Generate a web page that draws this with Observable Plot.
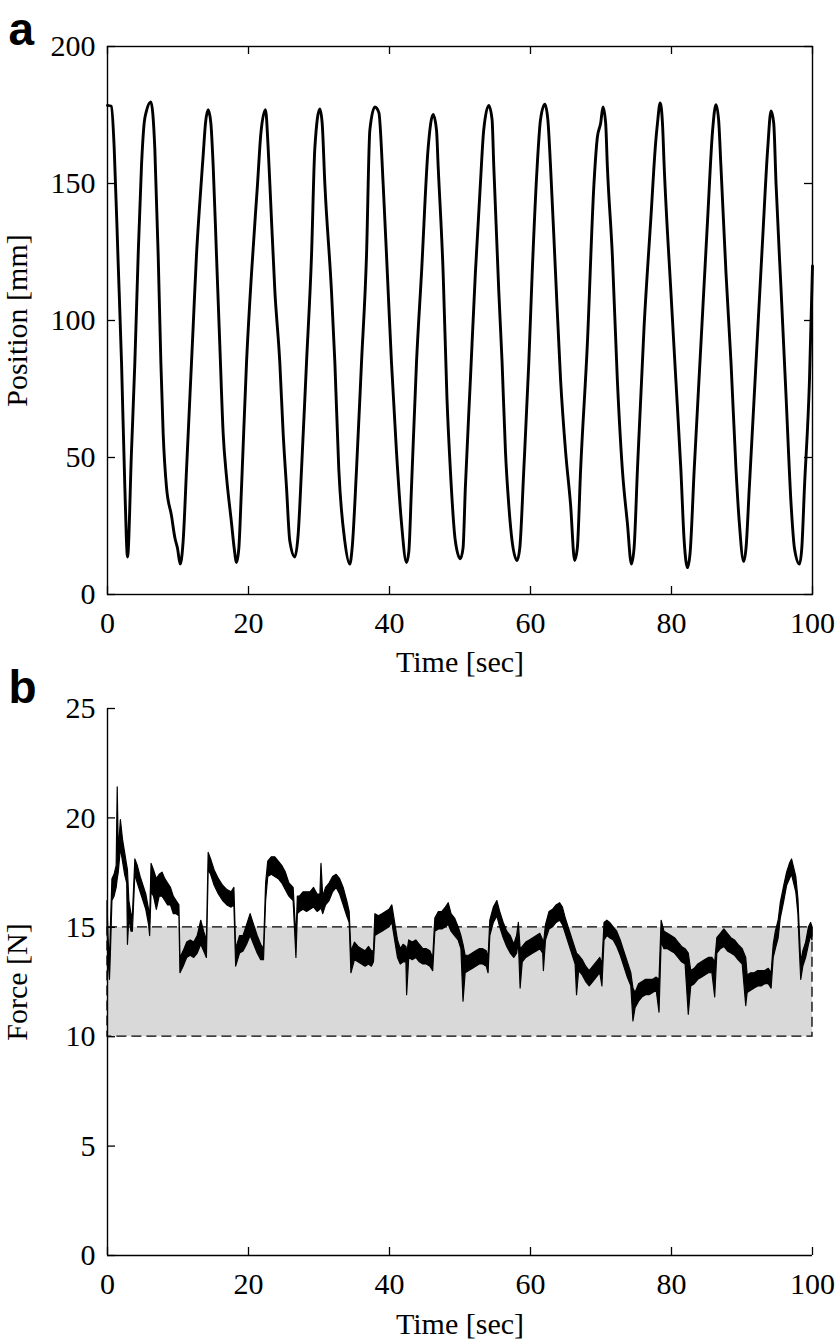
<!DOCTYPE html>
<html><head><meta charset="utf-8">
<script src="https://cdn.jsdelivr.net/npm/d3@7"></script>
<script src="https://cdn.jsdelivr.net/npm/@observablehq/plot@0.6"></script>
<style>body{margin:0;background:#fff} svg{display:block}</style>
</head><body><div id="chart"></div>
<script>
// ---------- data ----------
const xTicks = [0, 20, 40, 60, 80, 100];
const posTicks = [0, 50, 100, 150, 200];
const forceTicks = [0, 5, 10, 15, 20, 25];
const bandLow = 10, bandHigh = 15;
const timeRange = [0, 100];

const posTime = [0,0.57,0.95,1.51,1.99,2.46,2.84,3.40,3.88,4.35,4.82,5.20,5.53,6.15,6.71,7.19,7.57,7.90,8.37,9.08,9.55,9.93,10.31,10.73,11.21,11.68,12.15,12.62,13.10,13.57,13.90,14.28,14.66,14.99,15.46,15.93,16.41,16.88,17.59,17.97,18.30,18.63,19.01,19.72,20.43,21.28,21.75,22.41,22.79,23.03,23.74,24.44,24.92,25.39,25.86,26.57,27.05,27.52,28.23,28.94,29.41,30.12,30.45,30.83,31.77,32.25,32.81,33.66,34.37,34.70,35.32,36.03,36.74,37.21,37.92,38.49,39.10,39.81,40.28,40.99,41.70,42.41,42.74,43.12,43.83,44.54,45.48,46.19,46.67,46.90,47.61,48.15,48.63,49.34,50.05,50.43,50.76,51.47,52.18,52.89,53.36,54.08,54.55,54.79,55.50,55.97,56.45,56.92,57.39,58.10,58.48,59.05,59.76,60.24,60.95,61.42,62.04,62.46,62.84,63.55,64.27,64.98,65.69,66.26,66.64,67.11,68.06,69.00,69.48,69.95,70.28,70.66,70.90,71.61,72.32,73.03,73.74,74.31,74.69,75.17,76.11,77.06,77.77,78.01,78.39,78.72,78.96,79.91,80.62,81.33,81.80,82.27,82.65,83.22,84.17,85.12,85.83,86.30,86.68,87.01,87.73,88.44,89.15,89.62,90.24,90.57,91.04,91.99,92.94,93.65,94.12,94.50,94.83,95.55,96.26,96.97,97.44,98.15,98.48,98.86,99.57,100];
const posValue = [178.5,178.2,162.9,121.2,84.7,39.1,13.7,52.1,84.7,123.8,156.4,172.0,176.5,179.8,162.9,123.8,84.7,58.6,39.1,28.7,20.8,16.9,11.1,19.5,45.6,71.7,97.7,123.8,143.3,160.3,172.0,176.9,172.0,156.4,123.8,91.2,58.6,43.0,26.1,16.9,11.7,16.9,39.1,84.7,117.3,149.8,168.1,176.9,162.9,149.8,110.7,84.7,58.6,39.1,19.5,13.7,22.1,45.6,84.7,123.8,162.9,177.2,172,149.8,110.7,84.7,45.6,19.5,11.1,16.9,45.6,84.7,123.8,169.4,177.9,175.9,149.8,110.7,84.7,52.1,26.1,11.7,15.6,39.1,84.7,117.3,162.9,175.2,169.4,156.4,117.3,71.7,45.6,19.5,13.0,16.9,39.1,78.2,117.3,149.8,169.4,178.5,173.3,156.4,110.7,84.7,52.1,32.6,19.5,12.4,16.9,45.6,84.7,117.3,156.4,173.3,178.9,173.3,156.4,117.3,78.2,52.1,32.6,12.4,16.9,45.6,91.2,149.8,166.8,172.0,177.9,172,156.4,123.8,78.2,45.6,26.1,11.1,16.9,45.6,97.7,136.8,165.5,172.0,179.4,172,156.4,110.7,78.2,45.6,19.5,9.8,15.6,45.6,91.2,136.8,169.4,178.8,173.3,156.4,117.3,84.7,45.6,26.1,12.0,16.9,39.1,84.7,130.3,162.9,176.5,172,149.8,110.7,71.7,32.6,16.9,11.1,16.9,39.1,78.2,119.9];

const forceTime = [0,0.15,0.35,0.5,0.7,1.0,1.3,1.45,1.6,1.9,2.2,2.5,2.8,2.9,3.1,3.4,3.6,3.95,4.3,4.7,5.1,5.5,5.9,6.05,6.25,6.6,7.0,7.4,7.8,8.2,8.6,9.0,9.4,9.8,10.2,10.35,10.8,11.3,11.8,12.3,12.8,13.3,13.7,14.1,14.35,14.7,15.2,15.8,16.4,17.0,17.6,18.0,18.25,18.8,19.3,19.8,20.3,20.8,21.3,21.8,22.2,22.5,22.8,23.3,23.8,24.3,24.8,25.3,25.8,26.4,26.8,27.0,27.3,27.8,28.3,28.8,29.3,29.8,30.2,30.35,30.6,31.0,31.5,32.0,32.5,33.0,33.5,34.0,34.35,34.6,35.1,35.6,36.1,36.6,37.1,37.5,37.8,38.0,38.5,39.0,39.5,40.0,40.4,40.8,41.2,41.6,42.0,42.4,42.5,42.8,43.3,43.8,44.3,44.8,45.3,45.8,46.2,46.5,47.0,47.5,48.0,48.4,48.8,49.3,49.8,50.2,50.5,50.8,51.3,51.8,52.3,52.8,53.3,53.8,54.05,54.3,54.8,55.3,55.7,56.2,56.7,57.2,57.7,58.1,58.35,58.6,58.9,59.4,59.9,60.4,60.9,61.4,61.8,61.9,62.2,62.7,63.2,63.7,64.2,64.6,65.0,65.5,66.0,66.4,66.6,66.9,67.4,67.9,68.4,68.9,69.4,69.9,70.2,70.5,70.9,71.3,71.8,72.3,72.8,73.3,73.8,74.3,74.6,74.9,75.4,75.9,76.4,76.9,77.4,77.9,78.3,78.6,79.0,79.5,80.0,80.5,81.0,81.5,82.0,82.45,82.8,83.3,83.8,84.3,84.8,85.3,85.8,86.2,86.5,87.0,87.5,88.0,88.5,89.0,89.5,90.1,90.6,90.8,91.3,91.8,92.3,92.8,93.3,93.8,94.2,94.5,94.8,95.2,95.5,96.0,96.4,96.8,97.1,97.4,97.7,98.0,98.2,98.4,98.7,99.1,99.5,99.8,100];
const forceLow = [15.2,13.5,12.6,14.0,16.2,16.4,16.8,17.2,17.5,18.6,18.0,17.4,17.0,14.2,15.4,14.8,14.8,17.4,17.0,16.6,16.2,15.8,15.1,14.6,16.6,16.4,15.8,16.4,16.4,16.2,16.0,16.0,15.6,15.6,15.5,12.9,13.2,13.6,13.7,13.6,13.8,14.2,13.9,13.6,17.6,17.4,16.9,16.5,16.2,16.0,15.9,16.0,13.2,13.8,13.9,14.2,14.6,14.2,13.8,13.5,13.5,16.2,17.3,17.4,17.3,17.2,17.0,16.7,16.4,16.2,13.6,15.6,15.7,15.8,15.7,15.8,15.9,15.7,15.8,15.9,15.6,16.0,16.2,16.6,16.8,16.5,16.0,15.5,15.2,12.9,13.5,13.4,13.3,13.2,13.3,13.2,13.4,14.6,14.7,14.8,14.9,15.0,15.2,14.4,13.6,13.3,13.4,13.4,11.9,13.6,13.5,13.6,13.4,13.3,13.3,13.2,13.0,14.8,14.9,14.9,15.0,15.1,14.8,14.6,14.4,14.0,11.6,12.9,13.0,13.1,13.2,13.3,13.3,13.2,12.9,14.6,15.2,15.5,15.0,14.5,14.1,13.8,13.6,13.8,14.3,12.2,13.4,13.6,13.7,13.8,13.9,14.0,13.8,13.0,14.4,14.9,15.0,15.2,15.3,15.1,14.7,14.2,13.7,13.3,11.9,13.0,12.8,12.5,12.3,12.5,12.7,12.9,12.3,14.4,14.6,14.5,14.4,14.1,13.7,13.2,12.7,12.3,10.7,11.3,11.6,11.8,11.9,11.9,12.0,12.1,11.1,14.3,14.0,14.0,13.9,13.8,13.6,13.4,13.3,11.0,12.3,12.4,12.6,12.7,12.8,12.9,12.9,11.8,13.8,14.0,14.1,13.9,13.8,13.7,13.5,13.3,11.4,12.0,12.1,12.2,12.3,12.3,12.4,12.4,12.2,13.6,14.0,14.5,15.4,16.2,16.9,17.2,17.4,17.0,16.6,15.6,14.0,12.6,13.2,13.6,14.2,14.6,14.4];
const forceHigh = [16.2,14.5,13.4,15.2,17.2,17.4,17.8,21.4,18.4,19.9,19.0,18.4,17.8,17.6,16.2,15.6,15.5,18.1,17.8,17.3,16.9,16.5,15.8,15.4,17.9,17.6,17.2,17.4,17.5,17.2,17.0,16.8,16.4,16.2,16.0,13.6,13.9,14.3,14.4,14.3,14.6,15.3,14.8,14.4,18.4,18.1,17.6,17.2,16.9,16.7,16.6,16.8,14.0,14.6,14.6,15.1,15.6,15.1,14.6,14.2,14.0,17.0,18.0,18.2,18.2,18.0,17.8,17.5,17.0,16.8,14.5,16.4,16.4,16.6,16.6,16.6,16.8,16.5,16.5,17.9,16.4,16.8,17.0,17.3,17.4,17.2,16.8,16.2,15.7,13.9,14.3,14.1,14.0,13.9,14.1,13.9,13.9,15.6,15.5,15.6,15.7,15.8,16.0,15.2,14.4,14.0,14.2,14.1,13.8,14.4,14.3,14.4,14.2,14.0,14.0,13.9,13.6,15.4,15.7,15.7,15.9,16.1,15.6,15.4,15.0,14.6,14.2,13.7,13.7,13.8,13.9,14.0,14.0,13.9,13.6,15.3,15.9,16.2,15.7,15.2,14.8,14.6,14.2,14.6,15.2,14.0,14.1,14.3,14.4,14.5,14.6,14.7,14.4,14.2,15.1,15.7,15.8,16.0,16.1,15.9,15.4,14.9,14.4,14.0,13.8,13.7,13.5,13.2,13.0,13.2,13.4,13.6,13.3,15.2,15.3,15.2,15.0,14.8,14.4,13.9,13.4,12.9,12.2,12.0,12.4,12.5,12.6,12.6,12.6,12.7,12.6,15.3,14.8,14.7,14.6,14.5,14.3,14.1,14.0,13.8,13.0,13.1,13.3,13.4,13.5,13.6,13.6,13.4,14.5,14.7,14.9,14.7,14.5,14.4,14.2,14.0,13.6,12.8,12.9,12.9,13.0,13.0,13.0,13.1,12.9,14.2,14.8,15.3,16.1,16.9,17.5,17.9,18.1,17.7,17.3,16.3,14.8,13.4,13.9,14.3,15.0,15.2,15.0];

// tables built from the arrays
const posData = posTime.map((t, i) => ({t, v: posValue[i]}));
const forceData = forceTime.map((t, i) => ({t, lo: forceLow[i], hi: forceHigh[i]}));
const bandRows = [{x1: timeRange[0], x2: timeRange[1], y1: bandLow, y2: bandHigh}];

// ---------- layout ----------
const W = 836, L = 107, R = 24, tickLen = 8;
const innerW = W - L - R;
const serif = "'Liberation Serif', 'Times New Roman', serif";
const sans = "'Liberation Sans', Arial, sans-serif";
const baseStyle = {fontFamily: serif, fontSize: "30px", color: "black", background: "white", overflow: "visible"};

// panel a
const aH = 680, aTop = 46, aBottom = 86;
const aInnerH = aH - aTop - aBottom;
const plotA = Plot.plot({
  width: W, height: aH, marginTop: aTop, marginBottom: aBottom, marginLeft: L, marginRight: R,
  style: baseStyle,
  x: {domain: timeRange},
  y: {domain: [posTicks[0], posTicks[posTicks.length - 1]]},
  marks: [
    Plot.line(posData, {x: "t", y: "v", stroke: "black", strokeWidth: 2.9, curve: "monotone-x"}),
    Plot.frame({stroke: "black", strokeWidth: 1.4}),
    Plot.tickX(xTicks, {x: d => d, insetTop: aInnerH - tickLen, stroke: "black", strokeWidth: 1.3}),
    Plot.tickX(xTicks, {x: d => d, insetBottom: aInnerH - tickLen, stroke: "black", strokeWidth: 1.3}),
    Plot.tickY(posTicks, {y: d => d, insetRight: innerW - tickLen, stroke: "black", strokeWidth: 1.3}),
    Plot.tickY(posTicks, {y: d => d, insetLeft: innerW - tickLen, stroke: "black", strokeWidth: 1.3}),
    Plot.axisX(xTicks, {tickSize: 0, tickPadding: 17, label: null, fontSize: 30}),
    Plot.axisY(posTicks, {tickSize: 0, tickPadding: 12, label: null, fontSize: 30}),
    Plot.text(["Time [sec]"], {text: d => d, frameAnchor: "bottom", dy: 68, textAnchor: "middle", lineAnchor: "middle", fontSize: 30}),
    Plot.text(["Position [mm]"], {text: d => d, frameAnchor: "left", dx: -90, rotate: -90, textAnchor: "middle", lineAnchor: "middle", fontSize: 30}),
    Plot.text(["a"], {text: d => d, frameAnchor: "top-left", dx: -99, dy: -16, textAnchor: "start", lineAnchor: "middle", fontFamily: sans, fontWeight: "bold", fontSize: 46})
  ]
});

// panel b
const bH = 661, bTop = 28, bBottom = 86;
const bInnerH = bH - bTop - bBottom;
const plotB = Plot.plot({
  width: W, height: bH, marginTop: bTop, marginBottom: bBottom, marginLeft: L, marginRight: R,
  style: baseStyle,
  x: {domain: timeRange},
  y: {domain: [forceTicks[0], forceTicks[forceTicks.length - 1]]},
  marks: [
    Plot.rect(bandRows, {x1: "x1", x2: "x2", y1: "y1", y2: "y2", fill: "#d9d9d9"}),
    Plot.rect(bandRows, {x1: "x1", x2: "x2", y1: "y1", y2: "y2", fill: "none", stroke: "black", strokeWidth: 1.3, strokeDasharray: "10,5"}),
    Plot.areaY(forceData, {x: "t", y1: "lo", y2: "hi", fill: "black", stroke: "black", strokeWidth: 1.2}),
    Plot.ruleX([timeRange[0]], {stroke: "black", strokeWidth: 1.4}),
    Plot.ruleY([forceTicks[0]], {stroke: "black", strokeWidth: 1.4}),
    Plot.tickX(xTicks, {x: d => d, insetTop: bInnerH - tickLen, stroke: "black", strokeWidth: 1.3}),
    Plot.tickY(forceTicks, {y: d => d, insetRight: innerW - tickLen, stroke: "black", strokeWidth: 1.3}),
    Plot.axisX(xTicks, {tickSize: 0, tickPadding: 17, label: null, fontSize: 30}),
    Plot.axisY(forceTicks, {tickSize: 0, tickPadding: 12, label: null, fontSize: 30}),
    Plot.text(["Time [sec]"], {text: d => d, frameAnchor: "bottom", dy: 69, textAnchor: "middle", lineAnchor: "middle", fontSize: 30}),
    Plot.text(["Force [N]"], {text: d => d, frameAnchor: "left", dx: -90, rotate: -90, textAnchor: "middle", lineAnchor: "middle", fontSize: 30}),
    Plot.text(["b"], {text: d => d, frameAnchor: "top-left", dx: -99, dy: -20, textAnchor: "start", lineAnchor: "middle", fontFamily: sans, fontWeight: "bold", fontSize: 46})
  ]
});

const root = document.getElementById("chart");
root.appendChild(plotA);
root.appendChild(plotB);
</script>
</body></html>
